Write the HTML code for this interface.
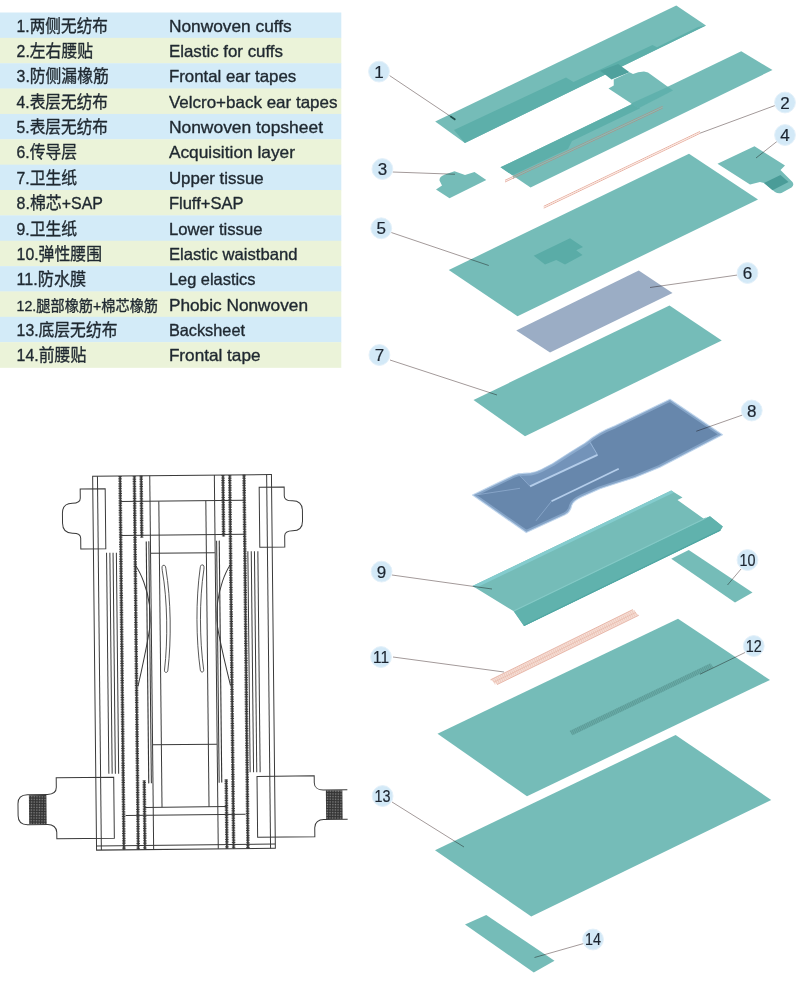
<!DOCTYPE html>
<html lang="zh">
<head>
<meta charset="utf-8">
<title>Diaper structure</title>
<style>
html,body{margin:0;padding:0;background:#fff;}
body{width:800px;height:987px;overflow:hidden;}
svg{display:block;font-family:"Liberation Sans","Noto Sans CJK SC",sans-serif;fill:#1f2830;}
</style>
</head>
<body>
<svg width="800" height="987" viewBox="0 0 800 987">
<rect x="0" y="0" width="800" height="987" fill="#fff"/>
<g id="table" stroke="#1f2830" stroke-width="0.35" stroke-linejoin="round">
<rect x="0" y="12.50" width="341.3" height="25.66" fill="#d3ebf8" stroke="none"/>
<rect x="0" y="37.86" width="341.3" height="25.66" fill="#ebf3d9" stroke="none"/>
<rect x="0" y="63.22" width="341.3" height="25.66" fill="#d3ebf8" stroke="none"/>
<rect x="0" y="88.58" width="341.3" height="25.66" fill="#ebf3d9" stroke="none"/>
<rect x="0" y="113.94" width="341.3" height="25.66" fill="#d3ebf8" stroke="none"/>
<rect x="0" y="139.30" width="341.3" height="25.66" fill="#ebf3d9" stroke="none"/>
<rect x="0" y="164.66" width="341.3" height="25.66" fill="#d3ebf8" stroke="none"/>
<rect x="0" y="190.02" width="341.3" height="25.66" fill="#ebf3d9" stroke="none"/>
<rect x="0" y="215.38" width="341.3" height="25.66" fill="#d3ebf8" stroke="none"/>
<rect x="0" y="240.74" width="341.3" height="25.66" fill="#ebf3d9" stroke="none"/>
<rect x="0" y="266.10" width="341.3" height="25.66" fill="#d3ebf8" stroke="none"/>
<rect x="0" y="291.46" width="341.3" height="25.66" fill="#ebf3d9" stroke="none"/>
<rect x="0" y="316.82" width="341.3" height="25.66" fill="#d3ebf8" stroke="none"/>
<rect x="0" y="342.18" width="341.3" height="25.66" fill="#ebf3d9" stroke="none"/>
<text x="16.6" y="31.70" font-size="16.5" textLength="91.40" lengthAdjust="spacingAndGlyphs">1.两侧无纺布</text>
<text x="168.9" y="31.70" font-size="16.5" textLength="122.85" lengthAdjust="spacingAndGlyphs">Nonwoven cuffs</text>
<text x="16.6" y="57.05" font-size="16.5" textLength="76.40" lengthAdjust="spacingAndGlyphs">2.左右腰贴</text>
<text x="168.9" y="57.05" font-size="16.5" textLength="114.10" lengthAdjust="spacingAndGlyphs">Elastic for cuffs</text>
<text x="16.6" y="82.40" font-size="16.5" textLength="92.15" lengthAdjust="spacingAndGlyphs">3.防侧漏橡筋</text>
<text x="168.9" y="82.40" font-size="16.5" textLength="127.35" lengthAdjust="spacingAndGlyphs">Frontal ear tapes</text>
<text x="16.6" y="107.75" font-size="16.5" textLength="91.40" lengthAdjust="spacingAndGlyphs">4.表层无纺布</text>
<text x="168.9" y="107.75" font-size="16.5" textLength="168.60" lengthAdjust="spacingAndGlyphs">Velcro+back ear tapes</text>
<text x="16.6" y="133.10" font-size="16.5" textLength="91.40" lengthAdjust="spacingAndGlyphs">5.表层无纺布</text>
<text x="168.9" y="133.10" font-size="16.5" textLength="154.10" lengthAdjust="spacingAndGlyphs">Nonwoven topsheet</text>
<text x="16.6" y="158.45" font-size="16.5" textLength="60.40" lengthAdjust="spacingAndGlyphs">6.传导层</text>
<text x="168.9" y="158.45" font-size="16.5" textLength="126.10" lengthAdjust="spacingAndGlyphs">Acquisition layer</text>
<text x="16.6" y="183.80" font-size="16.5" textLength="60.40" lengthAdjust="spacingAndGlyphs">7.卫生纸</text>
<text x="168.9" y="183.80" font-size="16.5" textLength="94.85" lengthAdjust="spacingAndGlyphs">Upper tissue</text>
<text x="16.6" y="209.15" font-size="16.5" textLength="86.40" lengthAdjust="spacingAndGlyphs">8.棉芯+SAP</text>
<text x="168.9" y="209.15" font-size="16.5" textLength="74.60" lengthAdjust="spacingAndGlyphs">Fluff+SAP</text>
<text x="16.6" y="234.50" font-size="16.5" textLength="60.40" lengthAdjust="spacingAndGlyphs">9.卫生纸</text>
<text x="168.9" y="234.50" font-size="16.5" textLength="93.60" lengthAdjust="spacingAndGlyphs">Lower tissue</text>
<text x="16.6" y="259.85" font-size="16.5" textLength="85.40" lengthAdjust="spacingAndGlyphs">10.弹性腰围</text>
<text x="168.9" y="259.85" font-size="16.5" textLength="128.60" lengthAdjust="spacingAndGlyphs">Elastic waistband</text>
<text x="16.6" y="285.20" font-size="16.5" textLength="69.65" lengthAdjust="spacingAndGlyphs">11.防水膜</text>
<text x="168.9" y="285.20" font-size="16.5" textLength="86.60" lengthAdjust="spacingAndGlyphs">Leg elastics</text>
<text x="16.6" y="310.55" font-size="15" textLength="141.40" lengthAdjust="spacingAndGlyphs">12.腿部橡筋+棉芯橡筋</text>
<text x="168.9" y="310.55" font-size="16.5" textLength="139.10" lengthAdjust="spacingAndGlyphs">Phobic Nonwoven</text>
<text x="16.6" y="335.90" font-size="16.5" textLength="100.90" lengthAdjust="spacingAndGlyphs">13.底层无纺布</text>
<text x="168.9" y="335.90" font-size="16.5" textLength="76.10" lengthAdjust="spacingAndGlyphs">Backsheet</text>
<text x="16.6" y="361.25" font-size="16.5" textLength="69.65" lengthAdjust="spacingAndGlyphs">14.前腰贴</text>
<text x="168.9" y="361.25" font-size="16.5" textLength="91.60" lengthAdjust="spacingAndGlyphs">Frontal tape</text>
</g>
<g id="layers">
<polygon points="435.2,121.6 676.3,5.5 706,25.5 464.9,142.9" fill="#75bcb8" />
<polygon points="454,130 566,77.6 573.5,82 652.5,45 657,47.3 698,27 706,25.5 464.9,142.9" fill="#5dafaa" />
<polygon points="500.5,167.25 741.25,51.25 772.5,70 530.5,187.5" fill="#75bcb8" />
<polygon points="500.5,167.25 640,100.3 640,108.3 572,140.9 568,148.9 512.5,175.35" fill="#5dafaa" />
<polygon points="600.2,70.8 618.2,64 629.5,72.3 611.5,79.4" fill="#4fa19d" />
<path d="M608.5,88.5 L613.75,85.6 L613.75,79.4 L629.5,72.3 L633,74 Q638,71.6 644,71.5 L648,72.5 L673,90.5 L638.5,108.25 Z" fill="#75bcb8"/>
<polygon points="631,103.5 668,86.8 673,90.5 638.5,108.25" fill="#5dafaa" opacity="0.85"/>
<line x1="505" y1="182" x2="514" y2="177.8" stroke="#e2a090" stroke-width="0.8" />
<line x1="505" y1="180.3" x2="514" y2="176.1" stroke="#e2a090" stroke-width="0.8" />
<line x1="513" y1="178.3" x2="662.6" y2="108.1" stroke="#b08d84" stroke-width="0.8" />
<line x1="513" y1="176.6" x2="662.6" y2="106.4" stroke="#b08d84" stroke-width="0.8" />
<line x1="513" y1="177.45" x2="662.6" y2="107.25" stroke="#8fc0b8" stroke-width="0.8" />
<line x1="543.75" y1="208.1" x2="700" y2="133.3" stroke="#e29a88" stroke-width="0.8" />
<line x1="543.75" y1="206.3" x2="700" y2="131.5" stroke="#e29a88" stroke-width="0.8" />
<line x1="543.75" y1="207.2" x2="700" y2="132.4" stroke="#f8e6e0" stroke-width="0.9" />
<path d="M436,189.5 L449.5,198.2 L486.3,180 L474.5,172 L465,175 L454.5,171.2 L445,174.5 Q439,176.5 439.5,180.5 L442,185.5 Z" fill="#75bcb8"/>
<path d="M717.5,163.75 L754.5,146.25 L785,165.5 L780.5,170 L792.5,182 Q794.5,185.5 791.5,187.5 L781.5,193 Q778,194 775,192 L764,183 L760,182 L750,184.5 Z" fill="#75bcb8"/>
<polygon points="764,183 780.5,175 788.5,182 772.5,190.2" fill="#4a9c98" />
<polygon points="448.75,270 689,153.75 758,199.5 517.5,316.25" fill="#75bcb8" />
<polygon points="533.75,255.75 570,238.25 583,247 576.25,250.3 582.5,255 565,264.5 556.25,260 545,264.5" fill="#5aaca7" />
<polygon points="516.25,330.5 638.75,270.5 672.5,293 550,352.5" fill="#9badc5" />
<polygon points="473.5,400 669.5,305.5 721.75,340.5 525,436.25" fill="#75bcb8" />
<g transform="translate(0,1.3)">
<defs><clipPath id="c8"><path d="M472.5,493.75 L513.75,473.9 Q518,472 523,472 L531,471.6 Q536,471 541,468.5 L552.5,462.5 L570,451.25 L585,442 Q592,436 600,431.5 Q606,428 615,424.5 L670,398 L722.5,433.5 L660,466 L635,476.25 Q612,483.5 600,487.5 L582,495.5 Q573,499.5 571.5,504.5 Q570.5,510.5 565,513.5 L526.25,531.25 Z"/></clipPath></defs>
<path d="M472.5,493.75 L513.75,473.9 Q518,472 523,472 L531,471.6 Q536,471 541,468.5 L552.5,462.5 L570,451.25 L585,442 Q592,436 600,431.5 Q606,428 615,424.5 L670,398 L722.5,433.5 L660,466 L635,476.25 Q612,483.5 600,487.5 L582,495.5 Q573,499.5 571.5,504.5 Q570.5,510.5 565,513.5 L526.25,531.25 Z" fill="#6787ac" stroke="#c9dcf0" stroke-width="1.2" stroke-linejoin="round"/>
<path d="M520,474.5 L531,471.6 Q536,471 541,468.5 L552.5,462.5 L570,451.25 L585,442 L590,439 L597.5,453.5 L530,485 Z" fill="#7f9fc6" opacity="0.5"/>
<path d="M472.5,493.75 L513.75,473.9 Q518,472 523,472 L531,471.6 Q536,471 541,468.5 L552.5,462.5 L570,451.25 L585,442 Q592,436 600,431.5 Q606,428 615,424.5 L670,398 L722.5,433.5 L660,466 L635,476.25 Q612,483.5 600,487.5 L582,495.5 Q573,499.5 571.5,504.5 Q570.5,510.5 565,513.5 L526.25,531.25 Z" fill="none" stroke="#a4c1e2" stroke-width="5" stroke-linejoin="round" clip-path="url(#c8)" opacity="0.5"/>
<path d="M530,485 L597.5,453.5" stroke="#b4cdea" stroke-width="2" fill="none"/>
<path d="M551.5,500 L618.75,467.5" stroke="#b4cdea" stroke-width="1.8" fill="none"/>
<path d="M590,441 L597.5,453.5" stroke="#9ab7d8" stroke-width="0.9" fill="none"/>
<path d="M520,474.5 L530,485 M551.5,500 L536,519.5 M477,493.5 L520,487" stroke="#93b0d2" stroke-width="0.7" fill="none"/>
</g>
<polygon points="472.5,586 671.25,490.6 682.5,497.5 677.5,500 703.75,518.75 710,516.25 722.8,526.4 720.3,530.6 524,626 513.75,611.25" fill="#75bcb8" />
<polygon points="472.5,586 671.25,490.6 674,492.4 475.6,588" fill="#84ccce" />
<polygon points="513.75,611.25 703.75,519.5 710,516.25 722.8,526.4 720.3,530.6 524,626" fill="#60b2ad" />
<line x1="513.75" y1="611" x2="706" y2="518" stroke="#84c9c6" stroke-width="1.3" />
<line x1="524" y1="625.5" x2="720.3" y2="530.1" stroke="#4fa7a3" stroke-width="1.2" />
<polygon points="671.25,558.75 688.75,550 752.5,592.5 735,602.5" fill="#75bcb8" />
<polygon points="490.5,679.8 632.8,609.6 638.75,615.3 497,684.6" fill="#f5ddd4" />
<line x1="493.75" y1="682.2" x2="635.8" y2="612.45" stroke="#e3a998" stroke-width="5.6" stroke-dasharray="0.6 1.5" opacity="0.55"/>
<line x1="490.5" y1="679.8" x2="632.8" y2="609.6" stroke="#dfa18f" stroke-width="0.7" />
<line x1="497" y1="684.6" x2="638.75" y2="615.3" stroke="#dfa18f" stroke-width="0.7" />
<line x1="493.75" y1="682.2" x2="635.8" y2="612.45" stroke="#e6b3a3" stroke-width="0.6" />
<polygon points="437.5,733.75 678,618.75 770,680 527,796.25" fill="#75bcb8" />
<polygon points="569.5,731 710,663.5 713.75,667.3 573,735" fill="#68aaa6" />
<line x1="571.2" y1="733" x2="711.9" y2="665.4" stroke="#528f8b" stroke-width="5" stroke-dasharray="0.6 1.3" opacity="0.75"/>
<polygon points="435,850.3 675.6,735 771.25,800 531.25,916.4" fill="#75bcb8" />
<polygon points="465,924.5 486.25,915 554.5,960.75 533.75,972.5" fill="#75bcb8" />
</g>
<g id="leaders" style="mix-blend-mode:multiply">
<line x1="389.6" y1="75.6" x2="455" y2="119.4" stroke="#a39a9a" stroke-width="1.0" />
<line x1="775" y1="105.5" x2="700" y2="133.2" stroke="#a39a9a" stroke-width="1.0" />
<line x1="392.5" y1="172" x2="455" y2="174.25" stroke="#a39a9a" stroke-width="1.0" />
<line x1="777.5" y1="141" x2="756" y2="158" stroke="#a39a9a" stroke-width="1.0" />
<line x1="391.25" y1="232.5" x2="488.75" y2="265.5" stroke="#a39a9a" stroke-width="1.0" />
<line x1="737.5" y1="275" x2="650" y2="287.5" stroke="#a39a9a" stroke-width="1.0" />
<line x1="390" y1="360" x2="497" y2="395" stroke="#a39a9a" stroke-width="1.0" />
<line x1="742.5" y1="415" x2="696.25" y2="431.25" stroke="#a39a9a" stroke-width="1.0" />
<line x1="392" y1="575" x2="492" y2="589" stroke="#a39a9a" stroke-width="1.0" />
<line x1="741.25" y1="568.75" x2="727.5" y2="585" stroke="#a39a9a" stroke-width="1.0" />
<line x1="393" y1="657" x2="504" y2="672" stroke="#a39a9a" stroke-width="1.0" />
<line x1="745" y1="652.5" x2="700" y2="674.25" stroke="#a39a9a" stroke-width="1.0" />
<line x1="392" y1="802" x2="464" y2="847" stroke="#a39a9a" stroke-width="1.0" />
<line x1="584.5" y1="943.25" x2="534.5" y2="957.5" stroke="#a39a9a" stroke-width="1.0" />
</g>
<line x1="450.3" y1="116.3" x2="455.4" y2="119.7" stroke="#1f4f4c" stroke-width="1.7" />
<g id="labels" font-size="17" text-anchor="middle" fill="#1c2530" stroke="#1c2530" stroke-width="0.2">
<circle cx="379" cy="71.6" r="10.4" fill="#d3e9f7" stroke="#e4f1fa" stroke-width="1"/>
<text x="379" y="77.6">1</text>
<circle cx="785" cy="102.5" r="10.4" fill="#d3e9f7" stroke="#e4f1fa" stroke-width="1"/>
<text x="785" y="108.5">2</text>
<circle cx="382.4" cy="169" r="10.4" fill="#d3e9f7" stroke="#e4f1fa" stroke-width="1"/>
<text x="382.4" y="175">3</text>
<circle cx="785" cy="135" r="10.4" fill="#d3e9f7" stroke="#e4f1fa" stroke-width="1"/>
<text x="785" y="141">4</text>
<circle cx="381.25" cy="228.25" r="10.4" fill="#d3e9f7" stroke="#e4f1fa" stroke-width="1"/>
<text x="381.25" y="234.25">5</text>
<circle cx="747.5" cy="273" r="10.4" fill="#d3e9f7" stroke="#e4f1fa" stroke-width="1"/>
<text x="747.5" y="279">6</text>
<circle cx="379.4" cy="355" r="10.4" fill="#d3e9f7" stroke="#e4f1fa" stroke-width="1"/>
<text x="379.4" y="361">7</text>
<circle cx="751.75" cy="410.5" r="10.4" fill="#d3e9f7" stroke="#e4f1fa" stroke-width="1"/>
<text x="751.75" y="416.5">8</text>
<circle cx="381.6" cy="571.6" r="10.4" fill="#d3e9f7" stroke="#e4f1fa" stroke-width="1"/>
<text x="381.6" y="577.6">9</text>
<circle cx="747.5" cy="560" r="10.4" fill="#d3e9f7" stroke="#e4f1fa" stroke-width="1"/>
<text x="747.5" y="565.8" font-size="16.5" textLength="16" lengthAdjust="spacingAndGlyphs">10</text>
<circle cx="381" cy="657" r="10.4" fill="#d3e9f7" stroke="#e4f1fa" stroke-width="1"/>
<text x="381" y="662.8" font-size="16.5" textLength="16" lengthAdjust="spacingAndGlyphs">11</text>
<circle cx="753.75" cy="646" r="10.4" fill="#d3e9f7" stroke="#e4f1fa" stroke-width="1"/>
<text x="753.75" y="651.8" font-size="16.5" textLength="16" lengthAdjust="spacingAndGlyphs">12</text>
<circle cx="382.6" cy="796" r="10.4" fill="#d3e9f7" stroke="#e4f1fa" stroke-width="1"/>
<text x="382.6" y="801.8" font-size="16.5" textLength="16" lengthAdjust="spacingAndGlyphs">13</text>
<circle cx="593" cy="939.5" r="10.4" fill="#d3e9f7" stroke="#e4f1fa" stroke-width="1"/>
<text x="593" y="945.3" font-size="16.5" textLength="16" lengthAdjust="spacingAndGlyphs">14</text>
</g>
<g id="diaper" transform="rotate(-0.6 184 662)">
<rect x="94.6" y="475.4" width="178.8" height="373.8" fill="none" stroke="#3a3a3a" stroke-width="1"/>
<line x1="99.4" y1="475.4" x2="99.4" y2="849.2" stroke="#3a3a3a" stroke-width="1.0" />
<line x1="117.5" y1="552" x2="117.5" y2="773" stroke="#3a3a3a" stroke-width="1.0" />
<line x1="114.2" y1="552" x2="114.2" y2="773" stroke="#3a3a3a" stroke-width="1.0" />
<line x1="111" y1="552" x2="111" y2="773" stroke="#3a3a3a" stroke-width="1.0" />
<line x1="107.7" y1="552" x2="107.7" y2="773" stroke="#3a3a3a" stroke-width="1.0" />
<line x1="122" y1="475.4" x2="122" y2="849.2" stroke="#444" stroke-width="3.5" stroke-dasharray="0.9 0.8"/>
<line x1="122" y1="475.4" x2="122" y2="849.2" stroke="#383838" stroke-width="1.7" />
<line x1="136.3" y1="475.4" x2="136.3" y2="849.2" stroke="#444" stroke-width="3.5" stroke-dasharray="0.9 0.8"/>
<line x1="136.3" y1="475.4" x2="136.3" y2="849.2" stroke="#383838" stroke-width="1.7" />
<line x1="143.1" y1="475.4" x2="143.1" y2="537" stroke="#444" stroke-width="3.5" stroke-dasharray="0.9 0.8"/>
<line x1="143.1" y1="475.4" x2="143.1" y2="537" stroke="#383838" stroke-width="1.7" />
<line x1="143" y1="780" x2="143" y2="849.2" stroke="#444" stroke-width="3.5" stroke-dasharray="0.9 0.8"/>
<line x1="143" y1="780" x2="143" y2="849.2" stroke="#383838" stroke-width="1.7" />
<line x1="151.7" y1="475.4" x2="151.7" y2="849.2" stroke="#3a3a3a" stroke-width="1.0" />
<line x1="150.1" y1="541" x2="150.1" y2="783" stroke="#333" stroke-width="1.0" />
<line x1="147.5" y1="541" x2="147.5" y2="783" stroke="#333" stroke-width="1.1" />
<line x1="160.5" y1="501" x2="160.5" y2="807" stroke="#3a3a3a" stroke-width="1.0" />
<path d="M136.8,565.5 C142,573 148,588 150,604 C151,615 151,625 149,634 C146,650 142,668 137.7,686" stroke="#3a3a3a" stroke-width="1.0" fill="none" />
<path d="M165,565 C162.8,565 162.8,567 163.2,570 C168.2,600 168.2,640 164.4,670 C164.2,673 167.6,673 167.8,670 C171.7,640 171.7,600 166.8,568 C166.6,566 165.8,565 165,565 Z" stroke="#3a3a3a" stroke-width="0.85" fill="#fff" />
<path d="M82,488 L107,488 L107,548 L82,548 L82,537 C82,533 79,532 74,532 C67,532 64,528 64,522 L64,512 C64,505 67,502 74,502 C79,502 82,501 82,497 Z" stroke="#3a3a3a" stroke-width="1.0" fill="none" />
<line x1="268.6" y1="475.4" x2="268.6" y2="849.2" stroke="#3a3a3a" stroke-width="1.0" />
<line x1="249" y1="552" x2="249" y2="773" stroke="#3a3a3a" stroke-width="1.0" />
<line x1="252.4" y1="552" x2="252.4" y2="773" stroke="#3a3a3a" stroke-width="1.0" />
<line x1="255.6" y1="552" x2="255.6" y2="773" stroke="#3a3a3a" stroke-width="1.0" />
<line x1="259" y1="552" x2="259" y2="773" stroke="#3a3a3a" stroke-width="1.0" />
<line x1="246" y1="475.4" x2="246" y2="849.2" stroke="#444" stroke-width="3.5" stroke-dasharray="0.9 0.8"/>
<line x1="246" y1="475.4" x2="246" y2="849.2" stroke="#383838" stroke-width="1.7" />
<line x1="231.7" y1="475.4" x2="231.7" y2="849.2" stroke="#444" stroke-width="3.5" stroke-dasharray="0.9 0.8"/>
<line x1="231.7" y1="475.4" x2="231.7" y2="849.2" stroke="#383838" stroke-width="1.7" />
<line x1="224.9" y1="475.4" x2="224.9" y2="537" stroke="#444" stroke-width="3.5" stroke-dasharray="0.9 0.8"/>
<line x1="224.9" y1="475.4" x2="224.9" y2="537" stroke="#383838" stroke-width="1.7" />
<line x1="225" y1="780" x2="225" y2="849.2" stroke="#444" stroke-width="3.5" stroke-dasharray="0.9 0.8"/>
<line x1="225" y1="780" x2="225" y2="849.2" stroke="#383838" stroke-width="1.7" />
<line x1="216.3" y1="475.4" x2="216.3" y2="849.2" stroke="#3a3a3a" stroke-width="1.0" />
<line x1="217.9" y1="541" x2="217.9" y2="783" stroke="#333" stroke-width="1.0" />
<line x1="220.5" y1="541" x2="220.5" y2="783" stroke="#333" stroke-width="1.1" />
<line x1="207.5" y1="501" x2="207.5" y2="807" stroke="#3a3a3a" stroke-width="1.0" />
<path d="M231.2,565.5 C226,573 220,588 218,604 C217,615 217,625 219,634 C222,650 226,668 230.3,686" stroke="#3a3a3a" stroke-width="1.0" fill="none" />
<path d="M203,565 C205.2,565 205.2,567 204.8,570 C199.8,600 199.8,640 203.6,670 C203.8,673 200.4,673 200.2,670 C196.3,640 196.3,600 201.2,568 C201.4,566 202.2,565 203,565 Z" stroke="#3a3a3a" stroke-width="0.85" fill="#fff" />
<path d="M286,488 L261,488 L261,548 L286,548 L286,537 C286,533 289,532 294,532 C301,532 304,528 304,522 L304,512 C304,505 301,502 294,502 C289,502 286,501 286,497 Z" stroke="#3a3a3a" stroke-width="1.0" fill="none" />
<line x1="122" y1="500.8" x2="246" y2="500.8" stroke="#3a3a3a" stroke-width="1.0" />
<line x1="122" y1="534.8" x2="246" y2="534.8" stroke="#3a3a3a" stroke-width="1.0" />
<line x1="152" y1="553" x2="216" y2="553" stroke="#3a3a3a" stroke-width="1.0" />
<line x1="152" y1="744.5" x2="216" y2="744.5" stroke="#3a3a3a" stroke-width="1.0" />
<line x1="143" y1="807" x2="225" y2="807" stroke="#3a3a3a" stroke-width="1.0" />
<line x1="124" y1="815" x2="244" y2="815" stroke="#3a3a3a" stroke-width="1.0" />
<line x1="94.6" y1="845" x2="273.4" y2="845" stroke="#3a3a3a" stroke-width="1.0" />
<path d="M55,776.5 L112.5,776.5 L112.5,837.5 L55,837.5 L55,831 C55,826 51,823 46,823 L26,823 C19,823 16.5,819 16.5,814 L16.5,802 C16.5,796 20,793 26,793 L46,793 C51,793 55,791 55,786 Z" stroke="#3a3a3a" stroke-width="1.0" fill="none" />
<defs><pattern id="hatch" width="1.6" height="1.6" patternUnits="userSpaceOnUse"><rect width="1.6" height="1.6" fill="#8a8a8a"/><path d="M0,0.4H1.6M0.4,0V1.6" stroke="#333" stroke-width="0.9"/></pattern></defs>
<rect x="27.5" y="793.5" width="17.5" height="29" fill="url(#hatch)"/>
<path d="M346,791.4 L322,791.4 C317,791.4 313,789 313,784 L313,777.2 L255.8,777.2 L255.8,838 L313,838 L313,829 C313,824 317,821 322,821 L346,821" stroke="#3a3a3a" stroke-width="1.0" fill="none" />
<rect x="324.5" y="791.8" width="16.5" height="28.8" fill="url(#hatch)"/>
</g>
</svg>
</body>
</html>
